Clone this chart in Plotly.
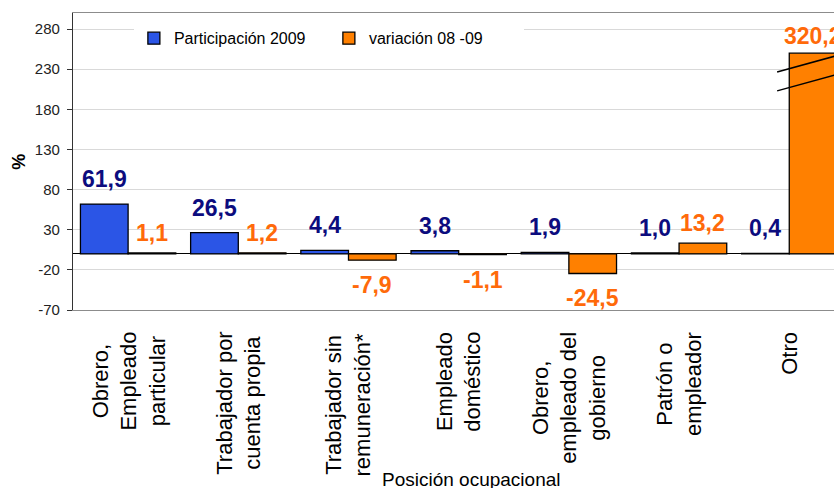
import plotly.graph_objects as go

# ---- data ----
CATEGORIES = [
    "Obrero,<br>Empleado<br>particular",
    "Trabajador por<br>cuenta propia",
    "Trabajador sin<br>remuneración*",
    "Empleado<br>doméstico",
    "Obrero,<br>empleado del<br>gobierno",
    "Patrón o<br>empleador",
    "Otro",
]
PARTICIPACION_2009 = [61.9, 26.5, 4.4, 3.8, 1.9, 1.0, 0.4]
VARIACION_08_09 = [1.1, 1.2, -7.9, -1.1, -24.5, 13.2, 320.2]
SERIES_NAMES = ["Participación 2009", "variación 08 -09"]
Y_TICKS = [-70, -20, 30, 80, 130, 180, 230, 280]
Y_TICK_LABELS = ["-70", "-20", "30", "80", "130", "180", "230", "280"]

# axis break: bars above this are drawn truncated, with break marks
BREAK_CAP = 250

# ---- style ----
BLUE = "#2b55e6"
ORANGE = "#ff8000"
BLUE_TXT = "#0c0c7e"
ORANGE_TXT = "#ff6a0a"
FONT = "Liberation Sans, Arial, sans-serif"
BARGAP = 0.135
Y_RANGE = [-70, 300]
X_RANGE = [-0.5, 6.406]


def fmt(v):
    return f"{v:.1f}".replace(".", ",")


var_drawn = [min(v, BREAK_CAP) for v in VARIACION_08_09]

fig = go.Figure()
fig.add_trace(go.Bar(
    x=CATEGORIES, y=PARTICIPACION_2009, name=SERIES_NAMES[0],
    marker=dict(color=BLUE, line=dict(color="#000000", width=1.3)),
))
fig.add_trace(go.Bar(
    x=CATEGORIES, y=var_drawn, name=SERIES_NAMES[1],
    marker=dict(color=ORANGE, line=dict(color="#000000", width=1.3)),
))

annotations = []
off = (1 - BARGAP) / 4
for i, (p, v, vd) in enumerate(zip(PARTICIPACION_2009, VARIACION_08_09, var_drawn)):
    annotations.append(dict(
        x=i - off, y=p, xref="x", yref="y", text=f"<b>{fmt(p)}</b>",
        showarrow=False, yanchor="bottom", yshift=10,
        font=dict(family=FONT, size=23, color=BLUE_TXT)))
    if v >= 0:
        annotations.append(dict(
            x=i + off, y=vd, xref="x", yref="y", text=f"<b>{fmt(v)}</b>",
            showarrow=False, yanchor="bottom", yshift=5 if v < BREAK_CAP else 2,
            font=dict(family=FONT, size=23, color=ORANGE_TXT)))
    else:
        annotations.append(dict(
            x=i + off, y=v, xref="x", yref="y", text=f"<b>{fmt(v)}</b>",
            showarrow=False, yanchor="top", yshift=-10,
            font=dict(family=FONT, size=23, color=ORANGE_TXT)))

# category labels (rotated, centred lines)
for c in CATEGORIES:
    annotations.append(dict(
        x=c, y=0, xref="x", yref="paper", text=c, showarrow=False,
        textangle=-90, align="center", yanchor="top", yshift=-20,
        font=dict(family=FONT, size=22, color="#000000")))

annotations.append(dict(
    x=0.523, y=0, xref="paper", yref="paper", text="Posición ocupacional",
    showarrow=False, yanchor="top", yshift=-157,
    font=dict(family=FONT, size=19, color="#000000")))
annotations.append(dict(
    x=-0.072, y=0.5, xref="paper", yref="paper", text="<b>%</b>",
    showarrow=False, textangle=-90, xanchor="center",
    font=dict(family=FONT, size=18, color="#000000")))

# break marks on the truncated bar
shapes = []
for i, v in enumerate(VARIACION_08_09):
    if v > BREAK_CAP:
        for d in (23.5, 47):
            shapes.append(dict(
                type="line", xref="x", yref="y",
                x0=i - 0.11, x1=i + 0.6,
                y0=BREAK_CAP - d, y1=BREAK_CAP - d + 26.8,
                line=dict(color="#000000", width=1.5)))

fig.update_layout(
    width=834, height=488,
    margin=dict(l=73, r=0, t=13, b=178),
    paper_bgcolor="#ffffff", plot_bgcolor="#ffffff",
    barmode="group", bargap=BARGAP, bargroupgap=0,
    font=dict(family=FONT, color="#000000"),
    annotations=annotations, shapes=shapes,
    legend=dict(orientation="h", x=0.08, y=0.915, xanchor="left", yanchor="middle",
                bgcolor="#ffffff", font=dict(family=FONT, size=16, color="#000000"),
                entrywidth=150, entrywidthmode="pixels"),
    xaxis=dict(range=X_RANGE, showticklabels=False, showgrid=False,
               showline=True, linecolor="#8c8c8c", linewidth=1.3, mirror=True,
               ticks="", zeroline=False),
    xaxis2=dict(overlaying="x", anchor="free", position=70 / 370, side="top",
                range=X_RANGE, tickmode="array",
                tickvals=[k + 0.5 for k in range(len(CATEGORIES) - 1)],
                ticks="outside", ticklen=6, tickcolor="#555555", tickwidth=1,
                showticklabels=False, showgrid=False, showline=False, zeroline=False),
    yaxis=dict(range=Y_RANGE, tickmode="array", tickvals=Y_TICKS, ticktext=Y_TICK_LABELS,
               showgrid=True, gridcolor="#d9d9d9", gridwidth=1,
               zeroline=True, zerolinecolor="#000000", zerolinewidth=1.3,
               showline=True, linecolor="#333333", linewidth=1.3,
               ticks="outside", ticklen=5, tickcolor="#333333",
               ticklabelstandoff=4,
               tickfont=dict(family=FONT, size=15, color="#222222")),
)

fig.write_html(
    "out.html",
    config={"displayModeBar": False},
    post_script="document.body.style.margin='0';document.body.style.overflow='hidden';",
)
